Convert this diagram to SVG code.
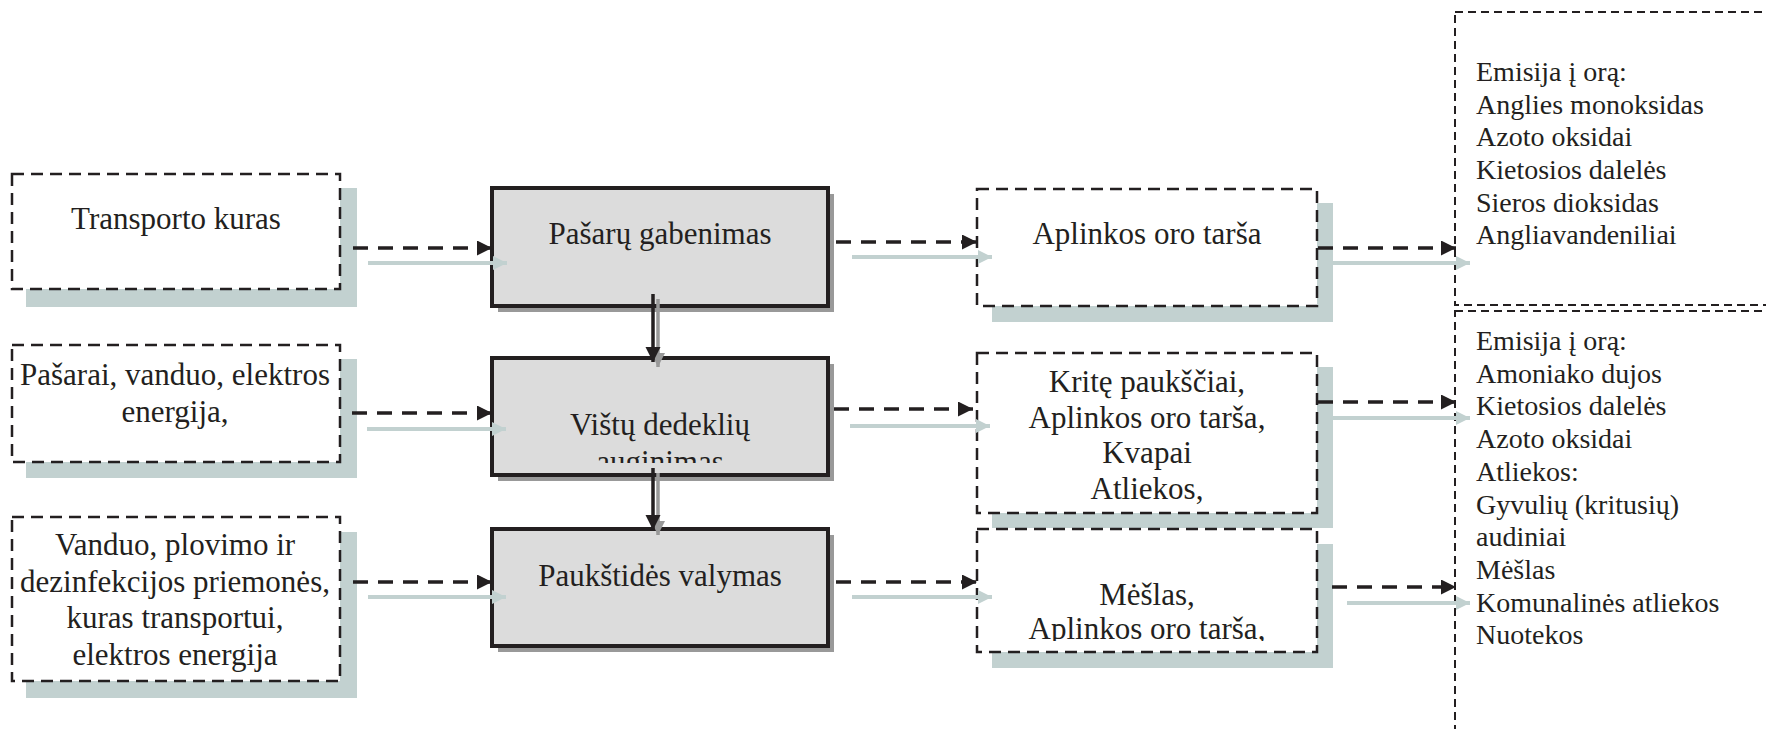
<svg xmlns="http://www.w3.org/2000/svg" width="1766" height="729" viewBox="0 0 1766 729">
<style>
text{font-family:"Liberation Serif","Times New Roman",serif;fill:#231f20}
.t{font-size:31px;text-anchor:middle}
.r{font-size:28px}
.sh{fill:#c2d1d0}
.db{fill:#fff;stroke:#231f20;stroke-width:2.5;stroke-dasharray:12 7}
.gs{fill:#999}
.gb{fill:#dcdcdc;stroke:#231f20;stroke-width:4}
.big{fill:none;stroke:#231f20;stroke-width:2;stroke-dasharray:8 5}
.da{stroke:#231f20;stroke-width:3.5;stroke-dasharray:15 10;fill:none;marker-end:url(#ab)}
.ga{stroke:#c2d1d0;stroke-width:4;fill:none;marker-end:url(#ag)}
.va{stroke:#231f20;stroke-width:3.5;fill:none;marker-end:url(#ab)}
.vg{stroke:#999;stroke-width:3.5;fill:none;marker-end:url(#ay)}
</style>
<defs>
<marker id="ab" markerUnits="userSpaceOnUse" markerWidth="16" markerHeight="16" refX="15" refY="7.5" orient="auto"><path d="M0,0 L15,7.5 L0,15 z" fill="#231f20"/></marker>
<marker id="ag" markerUnits="userSpaceOnUse" markerWidth="16" markerHeight="16" refX="14" refY="7" orient="auto"><path d="M0,0 L14,7 L0,14 z" fill="#c2d1d0"/></marker>
<marker id="ay" markerUnits="userSpaceOnUse" markerWidth="16" markerHeight="16" refX="14" refY="7" orient="auto"><path d="M0,0 L14,7 L0,14 z" fill="#999"/></marker>
<clipPath id="c2"><rect x="494" y="360" width="332" height="103"/></clipPath>
<clipPath id="c6"><rect x="979" y="531" width="336" height="110"/></clipPath>
</defs>

<g id="n-transporto-kuras">
<rect class="sh" x="26" y="188" width="331" height="119"/>
<rect class="db" x="12" y="174" width="328" height="115"/>
<text class="t" x="176" y="229">Transporto kuras</text>
</g>
<g id="n-pasarai">
<rect class="sh" x="26" y="359" width="331" height="119"/>
<rect class="db" x="12" y="345" width="328" height="117"/>
<text class="t" x="175" y="385">Pašarai, vanduo, elektros</text>
<text class="t" x="175" y="422">energija,</text>
</g>
<g id="n-vanduo">
<rect class="sh" x="26" y="532" width="331" height="166"/>
<rect class="db" x="12" y="517" width="328" height="164"/>
<text class="t" x="175" y="555">Vanduo, plovimo ir</text>
<text class="t" x="175" y="592">dezinfekcijos priemonės,</text>
<text class="t" x="175" y="628">kuras transportui,</text>
<text class="t" x="175" y="665">elektros energija</text>
</g>

<g id="n-pasaru-gabenimas">
<rect class="gs" x="498" y="194" width="336" height="118"/>
<rect class="gb" x="492" y="188" width="336" height="118"/>
<text class="t" x="660" y="244">Pašarų gabenimas</text>
</g>
<g id="n-vistu-auginimas">
<rect class="gs" x="498" y="364" width="336" height="117"/>
<rect class="gb" x="492" y="358" width="336" height="117"/>
<g clip-path="url(#c2)">
<text class="t" x="660" y="435">Vištų dedeklių</text>
<text class="t" x="660" y="472">auginimas</text>
</g>
</g>
<g id="n-paukstides-valymas">
<rect class="gs" x="498" y="535" width="336" height="117"/>
<rect class="gb" x="492" y="529" width="336" height="117"/>
<text class="t" x="660" y="586">Paukštidės valymas</text>
</g>

<g id="n-aplinkos-oro-tarsa">
<rect class="sh" x="992" y="203" width="341" height="119"/>
<rect class="db" x="977" y="189" width="340" height="117"/>
<text class="t" x="1147" y="244">Aplinkos oro tarša</text>
</g>
<g id="n-krite-pauksciai">
<rect class="sh" x="992" y="367" width="341" height="161"/>
<rect class="db" x="977" y="353" width="340" height="160"/>
<text class="t" x="1147" y="392">Kritę paukščiai,</text>
<text class="t" x="1147" y="428">Aplinkos oro tarša,</text>
<text class="t" x="1147" y="463">Kvapai</text>
<text class="t" x="1147" y="499">Atliekos,</text>
</g>
<g id="n-meslas">
<rect class="sh" x="992" y="544" width="341" height="124"/>
<rect class="db" x="977" y="529" width="340" height="123"/>
<g clip-path="url(#c6)">
<text class="t" x="1147" y="605">Mėšlas,</text>
<text class="t" x="1147" y="639">Aplinkos oro tarša,</text>
</g>
</g>

<g id="n-emisija-1">
<rect class="big" x="1455" y="12" width="330" height="293"/>
<text class="r" x="1476"><tspan x="1476" y="81">Emisija į orą:</tspan><tspan x="1476" y="113.7">Anglies monoksidas</tspan><tspan x="1476" y="146.4">Azoto oksidai</tspan><tspan x="1476" y="179">Kietosios dalelės</tspan><tspan x="1476" y="211.7">Sieros dioksidas</tspan><tspan x="1476" y="244.4">Angliavandeniliai</tspan></text>
</g>
<g id="n-emisija-2">
<rect class="big" x="1455" y="311" width="330" height="440"/>
<text class="r" x="1476"><tspan x="1476" y="350">Emisija į orą:</tspan><tspan x="1476" y="382.7">Amoniako dujos</tspan><tspan x="1476" y="415.4">Kietosios dalelės</tspan><tspan x="1476" y="448">Azoto oksidai</tspan><tspan x="1476" y="480.8">Atliekos:</tspan><tspan x="1476" y="513.5">Gyvulių (kritusių)</tspan><tspan x="1476" y="546">audiniai</tspan><tspan x="1476" y="579">Mėšlas</tspan><tspan x="1476" y="611.6">Komunalinės atliekos</tspan><tspan x="1476" y="644.3">Nuotekos</tspan></text>
</g>

<g id="connectors">
<path class="ga" d="M368,263 H507"/>
<path class="da" d="M353,248 H492"/>
<path class="ga" d="M367,429 H506"/>
<path class="da" d="M352,413 H492"/>
<path class="ga" d="M368,597 H506"/>
<path class="da" d="M353,582 H492"/>

<path class="ga" d="M852,257 H992"/>
<path class="da" d="M836,242 H977"/>
<path class="ga" d="M850,426 H990"/>
<path class="da" d="M834,409 H973"/>
<path class="ga" d="M852,597 H992"/>
<path class="da" d="M836,582 H977"/>

<path class="ga" d="M1332,263 H1470"/>
<path class="da" d="M1318,248 H1456"/>
<path class="ga" d="M1332,418 H1470"/>
<path class="da" d="M1318,402 H1456"/>
<path class="ga" d="M1347,603 H1470"/>
<path class="da" d="M1332,587 H1456"/>

<path class="vg" d="M658,299 V367"/>
<path class="va" d="M653,294 V362"/>
<path class="vg" d="M658,473 V535"/>
<path class="va" d="M653,468 V530"/>
</g>
</svg>
